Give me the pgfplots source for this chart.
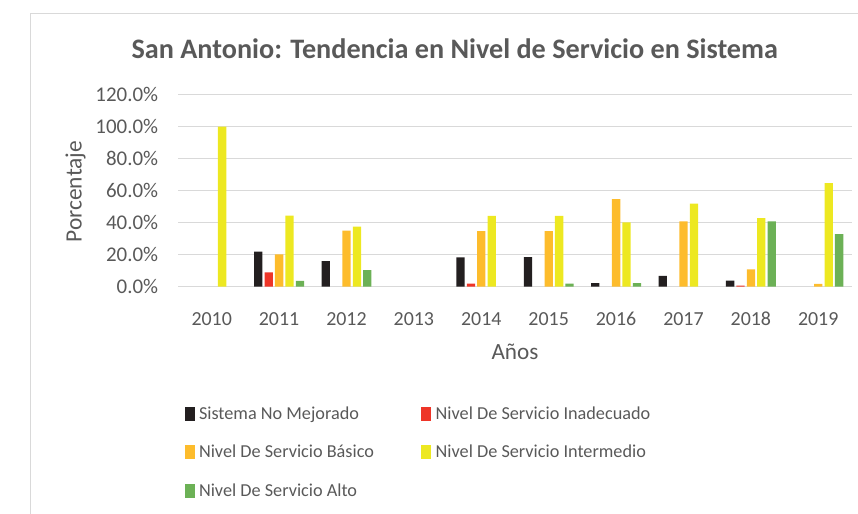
\documentclass[border=0pt]{standalone}
\usepackage{fontspec}
\setmainfont{Carlito}
\usepackage{pgfplots}
\pgfplotsset{compat=1.18}

\definecolor{txt}{HTML}{595959}
\definecolor{gridc}{HTML}{D9D9D9}
\definecolor{cNo}{HTML}{231F20}
\definecolor{cIna}{HTML}{EE3528}
\definecolor{cBas}{HTML}{FDBC2C}
\definecolor{cInt}{HTML}{EDE821}
\definecolor{cAlt}{HTML}{6CB156}

\begin{document}
\begin{tikzpicture}
\useasboundingbox (0bp,0bp) rectangle (858bp,-514bp);
\draw[gridc, line width=0.75bp] (30.5bp,-514bp) -- (30.5bp,-13.5bp) -- (858bp,-13.5bp);

% titles
\node[text=txt, font=\fontsize{28.3}{30}\selectfont\bfseries, anchor=base, inner sep=0]
  at (454.7bp,-58.3bp) {San Antonio: Tendencia en Nivel de Servicio en Sistema};
\node[text=txt, font=\fontsize{23.3}{25}\selectfont, anchor=base, inner sep=0]
  at (515bp,-359bp) {Años};
\node[text=txt, font=\fontsize{23.5}{25}\selectfont, anchor=base, rotate=90, inner sep=0]
  at (81.7bp,-191.7bp) {Porcentaje};

\begin{axis}[
    at={(178bp,-286.7bp)}, anchor=south west,
    scale only axis,
    width=674bp, height=192bp,
    xmin=2009.5, xmax=2019.5,
    ymin=0, ymax=120,
    ybar=2.1bp, bar width=8.3bp,
    xtick={2010,...,2019},
    ytick={0,20,...,120},
    axis line style={draw=none},
    tick style={draw=none},
    ymajorgrids=true,
    grid style={gridc, line width=0.75bp},
    /pgf/number format/assume math mode=true,
    x tick label style={/pgf/number format/1000 sep=, text=txt,
        font=\fontsize{20}{22}\selectfont, anchor=base, inner sep=0pt, yshift=-35bp},
    yticklabel={\pgfmathprintnumber[fixed,fixed zerofill,precision=1]{\tick}\%},
    y tick label style={text=txt, font=\fontsize{21}{23}\selectfont,
        anchor=east, inner sep=0pt, xshift=-19.7bp},
    legend columns=2,
    legend cell align=left,
    legend style={at={(0.00935,-0.6100)}, anchor=north west,
        draw=none, fill=none, inner sep=0pt,
        font=\fontsize{18.3}{20}\selectfont, text=txt,
        row sep=19.8bp,
        nodes={inner sep=0pt, text height=15bp, text depth=4bp},
        /tikz/every odd column/.append style={column sep=4.5bp},
        /tikz/every even column/.append style={column sep=0bp}},
    legend image code/.code={%
        \path (0bp,-7bp) rectangle (10bp,7bp);
        \fill[#1] (0bp,-5.5bp) rectangle (10bp,5.5bp);},
]
\addplot[fill=cNo, draw=none] coordinates {
    (2011,21.9) (2012,16.0) (2014,18.3) (2015,18.5) (2016,2.3) (2017,6.7) (2018,3.8)
};
\addlegendentry{\makebox[222.2bp][l]{Sistema No Mejorado}}
\addplot[fill=cIna, draw=none] coordinates {
    (2011,9.0) (2014,1.9) (2018,0.6)
};
\addlegendentry{Nivel De Servicio Inadecuado}
\addplot[fill=cBas, draw=none] coordinates {
    (2011,20.2) (2012,35.0) (2014,34.8) (2015,34.8) (2016,54.8) (2017,40.8) (2018,10.8) (2019,1.7)
};
\addlegendentry{\makebox[222.2bp][l]{Nivel De Servicio Básico}}
\addplot[fill=cInt, draw=none] coordinates {
    (2010,100) (2011,44.4) (2012,37.5) (2014,44.2) (2015,44.2) (2016,40.2) (2017,51.9) (2018,42.9) (2019,64.8)
};
\addlegendentry{Nivel De Servicio Intermedio}
\addplot[fill=cAlt, draw=none] coordinates {
    (2011,3.6) (2012,10.4) (2015,1.9) (2016,2.3) (2018,40.8) (2019,32.9)
};
\addlegendentry{\makebox[222.2bp][l]{Nivel De Servicio Alto}}
\end{axis}
\end{tikzpicture}
\end{document}
